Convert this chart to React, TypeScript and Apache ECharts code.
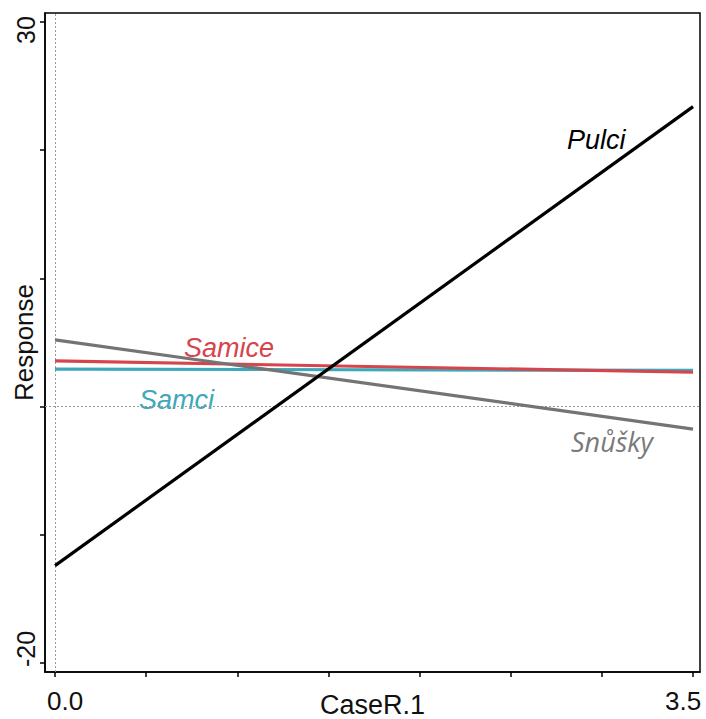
import React, { useEffect, useRef } from "react";
import * as echarts from "echarts";

const xValues = [0, 3.5];
const pulci = [-12.4, 23.4];
const snusky = [5.2, -1.75];
const samice = [3.56, 2.68];
const samci = [2.93, 2.82];

const xTicks = [0, 0.5, 1, 1.5, 2, 2.5, 3, 3.5];
const xTickLabels = [0, 3.5];
const yTicks = [-20, -10, 0, 10, 20, 30];
const yTickLabels = [-20, 30];

const toPairs = (ys: number[]) => xValues.map((x, i) => [x, ys[i]]);

export default function App() {
  const ref = useRef<HTMLDivElement>(null);
  useEffect(() => {
    if (!ref.current) return;
    const chart = echarts.init(ref.current, null, { renderer: "svg" });
    const font = "'Liberation Sans', Arial, sans-serif";
    const lineSeries = (name: string, ys: number[], color: string, extra: any = {}) => ({
      name,
      type: "line",
      data: toPairs(ys),
      showSymbol: false,
      symbol: "none",
      lineStyle: { color, width: 3.2 },
      itemStyle: { color },
      z: 3,
      ...extra,
    });
    const labelRich = (size: number) => ({
      lo: { fontFamily: font, fontSize: size, color: "#111", padding: [0, 0, 0, 20] },
      hi: { fontFamily: font, fontSize: size, color: "#111", padding: [0, 20, 0, 0] },
    });
    chart.setOption({
      animation: false,
      backgroundColor: "#fff",
      grid: {
        left: 45,
        top: 13,
        right: 6,
        bottom: 47,
        containLabel: false,
        outerBoundsMode: "none",
        show: true,
        borderColor: "#000",
        borderWidth: 1.5,
        backgroundColor: "transparent",
      },
      xAxis: {
        type: "value",
        min: -0.055,
        max: 3.538,
        name: "CaseR.1",
        nameLocation: "middle",
        nameGap: 19,
        nameMoveOverlap: false,
        nameTextStyle: { fontFamily: font, fontSize: 27, color: "#111", verticalAlign: "top" },
        axisLine: { show: true, onZero: false, lineStyle: { color: "#000", width: 1.5 } },
        axisTick: { show: true, customValues: xTicks, length: 5, lineStyle: { color: "#000", width: 1.5 } },
        axisLabel: {
          show: true,
          customValues: xTickLabels,
          formatter: (v: number) => (v === xTickLabels[0] ? `{lo|${v.toFixed(1)}}` : `{hi|${v.toFixed(1)}}`),
          rich: labelRich(26),
          fontFamily: font,
          fontSize: 26,
          color: "#111",
          margin: 16,
        },
        splitLine: { show: false },
      },
      yAxis: {
        type: "value",
        min: -20.7,
        max: 30.7,
        name: "Response",
        nameLocation: "middle",
        nameGap: 8,
        nameMoveOverlap: false,
        nameTextStyle: { fontFamily: font, fontSize: 26, color: "#111" },
        axisLine: { show: true, onZero: false, lineStyle: { color: "#000", width: 1.5 } },
        axisTick: { show: true, customValues: yTicks, length: 5, lineStyle: { color: "#000", width: 1.5 } },
        axisLabel: {
          show: true,
          customValues: yTickLabels,
          rotate: 90,
          formatter: (v: number) => (v === yTickLabels[0] ? `{lo|${v}}` : `{hi|${v}}`),
          rich: {
            lo: { fontFamily: font, fontSize: 25, color: "#111", padding: [0, 0, 0, 28] },
            hi: { fontFamily: font, fontSize: 25, color: "#111", padding: [0, 16, 0, 0] },
          },
          fontFamily: font,
          fontSize: 25,
          color: "#111",
          margin: 7,
        },
        splitLine: { show: false },
      },
      series: [
        lineSeries("Samci", samci, "#3ea8ba", {
          markLine: {
            silent: true,
            symbol: "none",
            label: { show: false },
            lineStyle: { color: "#999", type: [2, 2], width: 1 },
            data: [{ xAxis: 0 }, { yAxis: 0 }],
            z: 1,
          },
        }),
        lineSeries("Samice", samice, "#d6444c"),
        lineSeries("Snůšky", snusky, "#747474"),
        lineSeries("Pulci", pulci, "#000"),
      ],
      graphic: [
        {
          type: "text",
          x: 567,
          y: 140,
          style: {
            text: "Pulci",
            fill: "#000",
            font: `italic 27px ${font}`,
            textAlign: "left",
            textVerticalAlign: "middle",
          },
        },
        {
          type: "text",
          x: 184,
          y: 348,
          style: {
            text: "Samice",
            fill: "#d6444c",
            font: `italic 27px ${font}`,
            textAlign: "left",
            textVerticalAlign: "middle",
          },
        },
        {
          type: "text",
          x: 139,
          y: 400,
          style: {
            text: "Samci",
            fill: "#3ea8ba",
            font: `italic 27px ${font}`,
            textAlign: "left",
            textVerticalAlign: "middle",
          },
        },
        {
          type: "text",
          x: 571,
          y: 441,
          style: {
            text: "Snůšky",
            fill: "#7a7a7a",
            font: `italic 27px 'Open Sans', sans-serif`,
            textAlign: "left",
            textVerticalAlign: "middle",
          },
        },
      ],
    });
    return () => chart.dispose();
  }, []);
  return (
    <div
      ref={ref}
      style={{ position: "fixed", left: 0, top: 0, width: 706, height: 719, background: "#fff" }}
    />
  );
}
